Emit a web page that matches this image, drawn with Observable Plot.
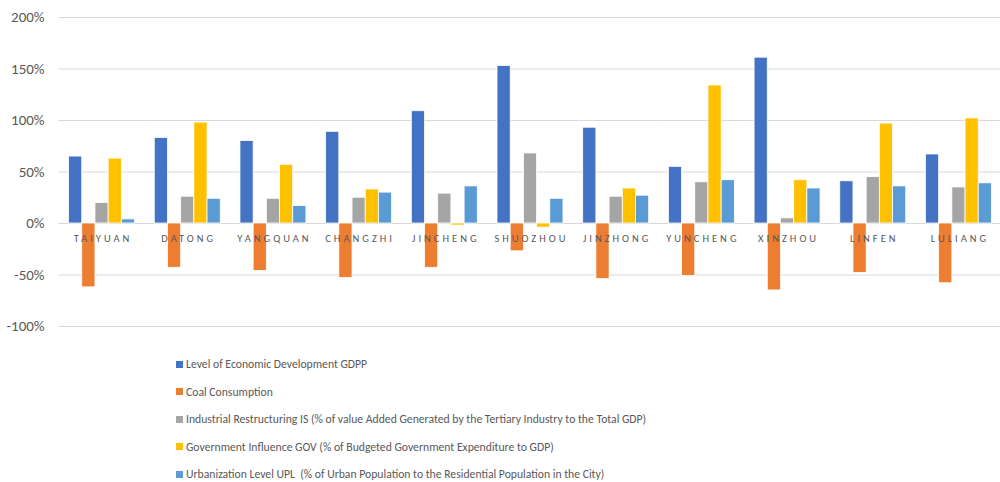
<!DOCTYPE html>
<html>
<head>
<meta charset="utf-8">
<script src="https://cdn.jsdelivr.net/npm/d3@7"></script>
<script src="https://cdn.jsdelivr.net/npm/@observablehq/plot@0.6"></script>
<style>
  html, body { margin: 0; padding: 0; background: #fff; }
  body { width: 1000px; height: 482px; overflow: hidden; font-family: Carlito, "Liberation Sans", sans-serif; }
  #chart svg { display: block; }
  #legend { padding-left: 176px; padding-top: 10.5px; }
  .row { height: 27.5px; display: flex; align-items: center; font-size: 11.7px; color: #595959; white-space: pre; }
  .sw { width: 7px; height: 7px; margin-right: 3px; flex: none; }
</style>
</head>
<body>
<div id="chart"></div>
<div id="legend"></div>
<script>
const cities = ["TAIYUAN", "DATONG", "YANGQUAN", "CHANGZHI", "JINCHENG", "SHUOZHOU", "JINZHONG", "YUNCHENG", "XINZHOU", "LINFEN", "LULIANG"];
const seriesNames = [
  "Level of Economic Development GDPP",
  "Coal Consumption",
  "Industrial Restructuring IS (% of value Added Generated by the Tertiary Industry to the Total GDP)",
  "Government Influence GOV (% of Budgeted Government Expenditure to GDP)",
  "Urbanization Level UPL  (% of Urban Population to the Residential Population in the City)"
];
const colors = ["#4472C4", "#ED7D31", "#A5A5A5", "#FFC000", "#5B9BD5"];
const gdpp = [65, 83, 80, 89, 109, 153, 93, 55, 161, 41, 67];
const coal = [-62, -43, -46, -53, -43, -27, -54, -51, -65, -48, -58];
const is   = [20, 26, 24, 25, 29, 68, 26, 40, 5, 45, 35];
const gov  = [63, 98, 57, 33, -2, -4, 34, 134, 42, 97, 102];
const upl  = [4, 24, 17, 30, 36, 24, 27, 42, 34, 36, 39];
const yTicks = [-100, -50, 0, 50, 100, 150, 200];

const seriesValues = [gdpp, coal, is, gov, upl];
const data = [];
cities.forEach((c, i) => {
  seriesNames.forEach((s, j) => data.push({city: c, series: s, value: seriesValues[j][i]}));
});

const fontFam = 'Carlito, "Liberation Sans", sans-serif';

const chart = Plot.plot({
  width: 1000,
  height: 340,
  marginTop: 17,
  marginBottom: 14,
  marginLeft: 60,
  marginRight: 0,
  style: {fontFamily: fontFam, fontSize: "15px", color: "#595959", background: "#fff"},
  fx: {domain: cities, paddingInner: 0.23, paddingOuter: 0.1, round: false, axis: null, label: null},
  x: {domain: seriesNames, padding: 0, round: false, axis: null},
  y: {domain: [-100, 200], label: null},
  color: {domain: seriesNames, range: colors},
  marks: [
    Plot.ruleY(yTicks, {stroke: "#D9D9D9", strokeWidth: 1, insetLeft: -10, insetRight: -10}),
    Plot.axisY({ticks: yTicks, tickFormat: d => d + "%", tickSize: 0, tickPadding: 24.5, label: null, fill: "#595959"}),
    Plot.barY(data, {fx: "city", x: "series", y: "value", fill: "series", stroke: "white", strokeWidth: 0.8}),
    Plot.text(cities, {fx: d => d, text: d => d, y: 0, dy: 15.3, dx: 1, fontSize: 10.5, fill: "#595959"})
  ]
});
document.getElementById("chart").appendChild(chart);
d3.select(chart).selectAll("text")
  .filter(function() { return cities.includes(this.textContent); })
  .attr("letter-spacing", "3px");

const legend = d3.select("#legend");
seriesNames.forEach((s, i) => {
  const row = legend.append("div").attr("class", "row");
  row.append("div").attr("class", "sw").style("background", colors[i]);
  row.append("span").text(s);
});
</script>
</body>
</html>
